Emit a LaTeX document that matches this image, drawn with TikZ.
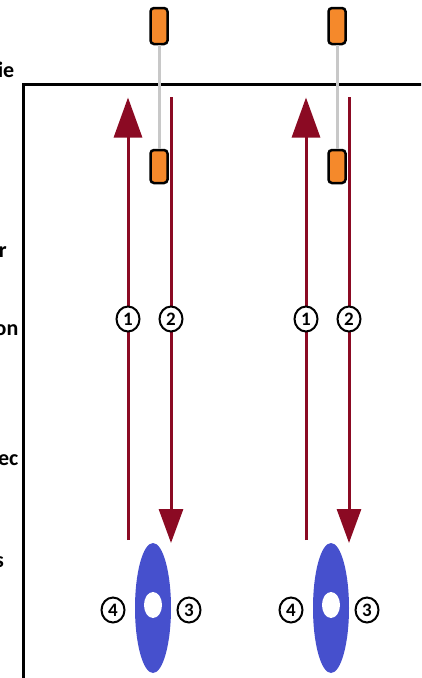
\documentclass[tikz,border=0pt]{standalone}
\usepackage{fontspec}
\setmainfont{Carlito}
\usetikzlibrary{arrows.meta,shapes.geometric}
\definecolor{arrowred}{HTML}{8B0A23}
\definecolor{boxorange}{HTML}{F5892B}
\definecolor{discblue}{HTML}{4650CD}
\definecolor{linkgray}{HTML}{C8C8C8}
\begin{document}
\begin{tikzpicture}[x=1pt,y=-1pt,
  plate/.style={draw=black, line width=2.5pt, fill=boxorange, rounded corners=3.5pt,
    minimum width=17pt, inner sep=0pt},
  num/.style={ellipse, draw=black, line width=2pt, fill=white, inner sep=0pt,
    minimum width=23pt, minimum height=25pt, font=\bfseries\fontsize{19}{19}\selectfont},
  flow/.style={draw=arrowred, line width=3pt},
  side/.style={font=\bfseries\fontsize{22}{22}\selectfont, anchor=base east, inner sep=0pt},
  link/.style={draw=linkgray, line width=3pt}]
\useasboundingbox (0,0) rectangle (421,678);
\clip (0,0) rectangle (421,678);
% side texts
\node[side] (ie) at (14.5,77) {ie};
\node[side] (r) at (7,257) {r};
\node[side] (on) at (18.5,335) {on};
\node[side] (ec) at (18.5,465) {ec};
\node[side] (s) at (4,567) {s};
% frame
\coordinate (fb) at (23,690);
\coordinate (fc) at (23,84.5);
\coordinate (fr) at (430,84.5);
\draw[line width=3pt] (fb) -- (fc) -- (fr);
\foreach \dx/\g in {0/a,178/b}{
  \node[plate, minimum height=36pt] (top\g) at (159+\dx,26) {};
  \node[plate, minimum height=33pt] (low\g) at (159+\dx,166.5) {};
  \draw[link] (top\g.south) -- (low\g.north);
  \coordinate (us\g) at (128+\dx,540);
  \coordinate (ue\g) at (128+\dx,97.5);
  \coordinate (ds\g) at (171+\dx,97);
  \coordinate (de\g) at (171+\dx,543);
  \draw[flow, -{Triangle[width=28pt,length=40pt]}] (us\g) -- (ue\g);
  \draw[flow, -{Triangle[width=24pt,length=34pt]}] (ds\g) -- (de\g);
  \node[num] (n1\g) at (128+\dx,319) {1};
  \node[num] (n2\g) at (171+\dx,319) {2};
  \node[ellipse, fill=discblue, inner sep=0pt, minimum width=36pt, minimum height=130pt] (disc\g) at (153+\dx,608) {};
  \node[ellipse, fill=white, inner sep=0pt, minimum width=18pt, minimum height=26pt] (hole\g) at (153+\dx,605) {};
  \node[num] (n4\g) at (113+\dx,610) {4};
  \node[num] (n3\g) at (189+\dx,610) {3};
}
\end{tikzpicture}
\end{document}
